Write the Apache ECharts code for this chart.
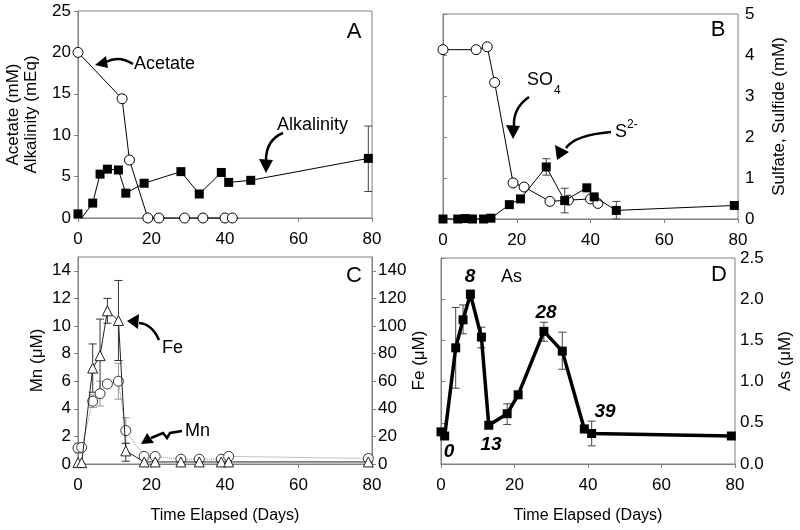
<!DOCTYPE html>
<html><head><meta charset="utf-8">
<script src="https://cdn.jsdelivr.net/npm/echarts/dist/echarts.min.js"></script>
<style>html,body{margin:0;padding:0;background:#fff}#c{width:800px;height:530px}</style>
</head><body><div id="c"></div>
<script>
// ---------- Panel A ----------
const acetateDays = [0, 12, 14, 19, 22, 29, 34, 40, 42];
const acetate     = [20, 14.4, 7.0, 0, 0, 0, 0, 0, 0];
const alkDays     = [0, 1, 4, 6, 8, 11, 13, 18, 28, 33, 39, 41, 47, 79];
const alkalinity  = [0.5, 0, 1.8, 5.3, 5.9, 5.8, 3.0, 4.2, 5.6, 2.9, 5.5, 4.3, 4.55, 7.2];
const alkErrDays  = [18, 79];
const alkErrLow   = [3.8, 3.2];
const alkErrHigh  = [4.6, 11.1];
// ---------- Panel B ----------
const so4Days     = [0, 9, 12, 14, 19, 22, 29, 34, 40, 42];
const sulfate     = [4.13, 4.13, 4.2, 3.33, 0.88, 0.78, 0.43, 0.46, 0.49, 0.38];
const sDays       = [0, 4, 6, 8, 11, 13, 18, 21, 28, 33, 39, 41, 47, 79];
const sulfide     = [0, 0, 0.01, 0, 0, 0.02, 0.35, 0.49, 1.27, 0.45, 0.76, 0.54, 0.21, 0.33];
const sErrDays    = [28, 33, 47, 79];
const sErrLow     = [1.07, 0.15, 0.0, 0.24];
const sErrHigh    = [1.47, 0.75, 0.43, 0.42];
// ---------- Panel C ----------
const metalDays   = [0, 1, 4, 6, 8, 11, 13, 18, 21, 28, 33, 39, 41, 79];
const mn          = [1.16, 1.2, 4.55, 5.1, 5.8, 6.0, 2.42, 0.55, 0.55, 0.35, 0.35, 0.35, 0.55, 0.4];
const fe          = [1, 1, 69.5, 78.5, 111, 104, 9.5, 1.5, 1.5, 1.5, 1.5, 1.5, 1.5, 1.5];
const mnErrDays   = [0, 4, 6, 11, 13];
const mnErrLow    = [0.8, 4.1, 4.2, 4.7, 1.5];
const mnErrHigh   = [1.5, 5.0, 6.0, 7.3, 3.35];
const feErrDays   = [4, 6, 8, 11, 13];
const feErrLow    = [52, 52, 102, 75, 2];
const feErrHigh   = [87, 105, 120, 133, 15];
// ---------- Panel D ----------
const asDays      = [0, 1, 4, 6, 8, 11, 13, 18, 21, 28, 33, 39, 41, 79];
const arsenic     = [0.39, 0.34, 1.41, 1.75, 2.06, 1.54, 0.47, 0.61, 0.84, 1.61, 1.37, 0.425, 0.37, 0.34];
const asErrDays   = [4, 6, 8, 11, 18, 28, 33, 39, 41];
const asErrLow    = [0.92, 1.58, 2.01, 1.41, 0.48, 1.49, 1.15, 0.38, 0.22];
const asErrHigh   = [1.9, 1.93, 2.11, 1.66, 0.73, 1.72, 1.6, 0.47, 0.52];
// tick settings
const xMin = 0, xMax = 80, xStep = 20;

const FONT = "'Liberation Sans', Arial, sans-serif";
const AX = '#808080';
const pairs = (xs, ys) => xs.map((x, i) => [x, ys[i]]);
const triples = (xs, lo, hi) => xs.map((x, i) => [x, lo[i], hi[i]]);

function errSeries(name, xi, yi, data, color, cap) {
  return {
    type: 'custom', name, xAxisIndex: xi, yAxisIndex: yi, z: 1, clip: false,
    encode: { x: 0, y: [1, 2] },
    data,
    renderItem: function (params, api) {
      const x = api.value(0);
      const lo = api.coord([x, api.value(1)]);
      const hi = api.coord([x, api.value(2)]);
      const st = { stroke: color, lineWidth: 1 };
      return { type: 'group', children: [
        { type: 'line', shape: { x1: lo[0], y1: lo[1], x2: hi[0], y2: hi[1] }, style: st },
        { type: 'line', shape: { x1: lo[0] - cap, y1: lo[1], x2: lo[0] + cap, y2: lo[1] }, style: st },
        { type: 'line', shape: { x1: hi[0] - cap, y1: hi[1], x2: hi[0] + cap, y2: hi[1] }, style: st }
      ]};
    }
  };
}

function xAx(gi, title) {
  const a = {
    gridIndex: gi, type: 'value', min: xMin, max: xMax, interval: xStep,
    axisLine: { lineStyle: { color: AX } },
    axisTick: { show: true, length: 4, lineStyle: { color: AX } },
    splitLine: { show: false },
    axisLabel: { fontSize: 17, color: '#000', fontFamily: FONT, margin: 13 }
  };
  if (title) {
    a.name = title; a.nameLocation = 'middle'; a.nameGap = 44;
    a.nameTextStyle = { fontSize: 16, color: '#000', fontFamily: FONT };
  }
  return a;
}
function yAx(gi, opt) {
  return Object.assign({
    gridIndex: gi, type: 'value',
    axisLine: { show: true, lineStyle: { color: AX } },
    axisTick: { show: true, length: 4, lineStyle: { color: AX } },
    splitLine: { show: false },
    axisLabel: { fontSize: 17, color: '#000', fontFamily: FONT, margin: 7, showMaxLabel: true },
    nameLocation: 'middle', nameRotate: 90,
    nameTextStyle: { fontSize: 17, color: '#000', fontFamily: FONT, lineHeight: 18 }
  }, opt);
}

const openCircle = { color: '#fff', borderColor: '#000', borderWidth: 1 };

const option = {
  animation: false,
  backgroundColor: '#fff',
  textStyle: { fontFamily: FONT },
  grid: [
    { left: 78, top: 11, width: 294, height: 207, show: true, borderColor: AX, borderWidth: 1 },
    { left: 443, top: 14, width: 295, height: 205, show: true, borderColor: AX, borderWidth: 1 },
    { left: 78, top: 257, width: 294, height: 207, show: true, borderColor: AX, borderWidth: 1 },
    { left: 441, top: 258, width: 294, height: 206, show: true, borderColor: AX, borderWidth: 1 }
  ],
  xAxis: [ xAx(0), xAx(1), xAx(2, 'Time Elapsed (Days)'), xAx(3, 'Time Elapsed (Days)') ],
  yAxis: [
    yAx(0, { min: 0, max: 25, interval: 5, position: 'left', name: 'Acetate (mM)\nAlkalinity (mEq)', nameGap: 38 }),
    yAx(1, { min: 0, max: 5, interval: 1, position: 'right', name: 'Sulfate, Sulfide (mM)', nameGap: 32 }),
    yAx(2, { min: 0, max: 15, interval: 2, position: 'left', name: 'Mn (\u03bcM)', nameGap: 32,
             axisLabel: { fontSize: 17, color: '#000', fontFamily: FONT, margin: 7, showMaxLabel: false } }),
    yAx(2, { min: 0, max: 150, interval: 20, position: 'right', name: 'Fe (\u03bcM)', nameGap: 36,
             axisLabel: { fontSize: 17, color: '#000', fontFamily: FONT, margin: 6, showMaxLabel: false } }),
    yAx(3, { min: 0, max: 2.5, interval: 0.5, position: 'right', name: 'As (\u03bcM)', nameGap: 41,
             axisLabel: { fontSize: 17, color: '#000', fontFamily: FONT, margin: 5, formatter: v => v.toFixed(1) } })
  ],
  series: [
    // Panel A
    errSeries('alkErr', 0, 0, triples(alkErrDays, alkErrLow, alkErrHigh), '#444', 4),
    { type: 'line', name: 'Acetate', xAxisIndex: 0, yAxisIndex: 0, clip: false, z: 3,
      data: pairs(acetateDays, acetate), symbol: 'circle', symbolSize: 10,
      lineStyle: { color: '#000', width: 1 }, itemStyle: openCircle },
    { type: 'line', name: 'Alkalinity', xAxisIndex: 0, yAxisIndex: 0, clip: false, z: 4,
      data: alkDays.map((d, i) => ({ value: [d, alkalinity[i]], symbol: alkalinity[i] === 0 ? 'none' : 'rect' })),
      symbol: 'rect', symbolSize: 9,
      lineStyle: { color: '#000', width: 1 }, itemStyle: { color: '#000' } },
    // Panel B
    errSeries('sErr', 1, 1, triples(sErrDays, sErrLow, sErrHigh), '#444', 4),
    { type: 'line', name: 'Sulfate', xAxisIndex: 1, yAxisIndex: 1, clip: false, z: 3,
      data: pairs(so4Days, sulfate), symbol: 'circle', symbolSize: 10,
      lineStyle: { color: '#000', width: 1 }, itemStyle: openCircle },
    { type: 'line', name: 'Sulfide', xAxisIndex: 1, yAxisIndex: 1, clip: false, z: 4,
      data: pairs(sDays, sulfide), symbol: 'rect', symbolSize: 9,
      lineStyle: { color: '#000', width: 1 }, itemStyle: { color: '#000' } },
    // Panel C
    errSeries('mnErr', 2, 2, triples(mnErrDays, mnErrLow, mnErrHigh), '#999', 4),
    errSeries('feErr', 2, 3, triples(feErrDays, feErrLow, feErrHigh), '#333', 4),
    { type: 'line', name: 'Mn', xAxisIndex: 2, yAxisIndex: 2, clip: false, z: 3,
      data: pairs(metalDays, mn), symbol: 'circle', symbolSize: 10,
      lineStyle: { color: '#888', width: 1, type: 'dotted' },
      itemStyle: { color: '#fff', borderColor: '#333', borderWidth: 1 } },
    { type: 'line', name: 'Fe', xAxisIndex: 2, yAxisIndex: 3, clip: false, z: 4,
      data: pairs(metalDays, fe), symbol: 'triangle', symbolSize: 10,
      lineStyle: { color: '#222', width: 1 },
      itemStyle: { color: '#fff', borderColor: '#222', borderWidth: 1 } },
    // Panel D
    errSeries('asErr', 3, 4, triples(asErrDays, asErrLow, asErrHigh), '#444', 4),
    { type: 'line', name: 'As', xAxisIndex: 3, yAxisIndex: 4, clip: false, z: 4,
      data: pairs(asDays, arsenic), symbol: 'rect', symbolSize: 9,
      lineStyle: { color: '#000', width: 3.5 }, itemStyle: { color: '#000' } }
  ],
  graphic: []
};

// ---------- annotations ----------
const G = option.graphic;
function txt(x, y, s, size, extra) {
  G.push({ type: 'text', x, y, z: 100, style: Object.assign({ text: s, fontSize: size, fontFamily: FONT, fill: '#000',
    textAlign: 'left', textVerticalAlign: 'middle' }, extra || {}) });
}
function curve(x1, y1, cx, cy, x2, y2) {
  G.push({ type: 'bezierCurve', z: 100, shape: { x1, y1, cpx1: cx, cpy1: cy, x2, y2 },
    style: { stroke: '#000', lineWidth: 2.5, fill: null } });
}
function head(pts) {
  G.push({ type: 'polygon', z: 100, shape: { points: pts }, style: { fill: '#000' } });
}
// panel letters
txt(354, 32, 'A', 22, { textAlign: 'center' });
txt(718, 30, 'B', 22, { textAlign: 'center' });
txt(354, 276, 'C', 22, { textAlign: 'center' });
txt(719, 275, 'D', 22, { textAlign: 'center' });
// A
txt(134, 64, 'Acetate', 18);
curve(133, 64, 119, 55, 106, 62);
head([[95, 65], [106, 56], [108, 68]]);
txt(277, 125, 'Alkalinity', 18);
curve(283, 133, 266, 140, 266, 160);
head([[266, 173], [259, 159], [273, 160]]);
// B
txt(527, 80, 'SO', 18);
txt(554, 91, '4', 12);
curve(529, 97, 513, 108, 514, 126);
head([[513, 139], [506, 125], [520, 126]]);
txt(615, 132, 'S', 18);
txt(627, 125, '2-', 12);
curve(611, 132, 575, 135, 566, 148);
head([[557, 160], [555, 145], [569, 152]]);
// C
txt(162, 348, 'Fe', 18);
curve(159, 340, 152, 324, 139, 323);
head([[127, 321], [139, 314], [138, 329]]);
txt(185, 431, 'Mn', 18);
G.push({ type: 'polyline', z: 100, shape: { points: [[182, 431], [170, 433], [167, 438], [163, 433], [151, 438]] },
  style: { stroke: '#000', lineWidth: 2.5, fill: null } });
head([[141, 444], [147, 433], [154, 443]]);
// D
txt(501, 277, 'As', 18);
const bi = { fontWeight: 'bold', fontStyle: 'italic', textAlign: 'center' };
txt(449, 452, '0', 19, bi);
txt(470, 277, '8', 19, bi);
txt(491, 445, '13', 19, bi);
txt(546, 313, '28', 19, bi);
txt(605, 412, '39', 19, bi);

echarts.init(document.getElementById('c')).setOption(option);
</script>
</body></html>
